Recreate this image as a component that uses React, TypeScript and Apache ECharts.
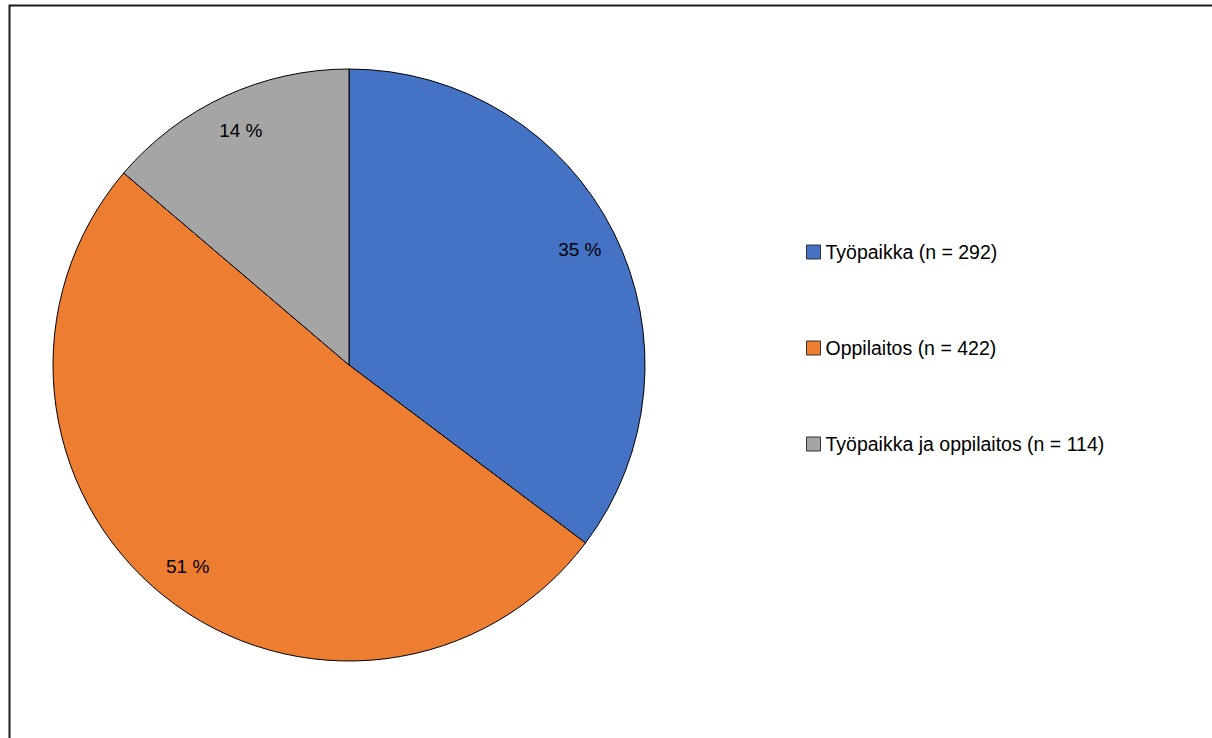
import React, { useEffect, useRef } from "react";
import * as echarts from "echarts";

const categories = ["Työpaikka", "Oppilaitos", "Työpaikka ja oppilaitos"];
const counts = [292, 422, 114];
const colors = ["#4472C4", "#ED7D31", "#A5A5A5"];

const FONT = "'Liberation Sans', Arial, sans-serif";

export default function App() {
  const ref = useRef<HTMLDivElement>(null);
  useEffect(() => {
    if (!ref.current) return;
    const chart = echarts.init(ref.current, null, { renderer: "svg" });
    const names = categories.map((c, i) => `${c} (n = ${counts[i]})`);
    const data = names.map((n, i) => ({
      name: n,
      value: counts[i],
      itemStyle: { color: colors[i] },
    }));
    chart.setOption({
      animation: false,
      backgroundColor: "#ffffff",
      graphic: [
        {
          type: "rect",
          shape: { x: 9.5, y: 5.5, width: 1400, height: 900 },
          style: { fill: "none", stroke: "#1a1a1a", lineWidth: 2 },
          silent: true,
        },
      ],
      legend: {
        orient: "vertical",
        left: 806,
        top: 240,
        padding: 0,
        itemWidth: 14,
        itemHeight: 14,
        itemGap: 72,
        icon: "rect",
        data: names.map((n, i) => ({
          name: n,
          itemStyle: { color: colors[i], borderColor: "#333", borderWidth: 1 },
        })),
        textStyle: {
          fontFamily: FONT,
          fontSize: 19.5,
          lineHeight: 24,
          color: "#000",
        },
      },
      series: [
        {
          type: "pie",
          center: [349, 365],
          radius: [0, 296],
          startAngle: 90,
          clockwise: true,
          data,
          label: { show: false },
          labelLine: { show: false },
          itemStyle: { borderColor: "#000", borderWidth: 1 },
          emphasis: { disabled: true },
          silent: true,
        },
        {
          type: "pie",
          center: [349, 365],
          radius: [214, 296],
          startAngle: 90,
          clockwise: true,
          percentPrecision: 0,
          data: data.map((d) => ({ name: d.name, value: d.value, itemStyle: { color: "transparent" } })),
          itemStyle: { borderWidth: 0 },
          label: {
            show: true,
            position: "inside",
            formatter: "{d} %",
            fontFamily: FONT,
            fontSize: 19,
            color: "#000",
          },
          labelLine: { show: false },
          emphasis: { disabled: true },
          silent: true,
        },
      ],
    });
    return () => chart.dispose();
  }, []);
  return (
    <div
      ref={ref}
      style={{ position: "absolute", left: 0, top: 0, width: 1212, height: 738 }}
    />
  );
}
